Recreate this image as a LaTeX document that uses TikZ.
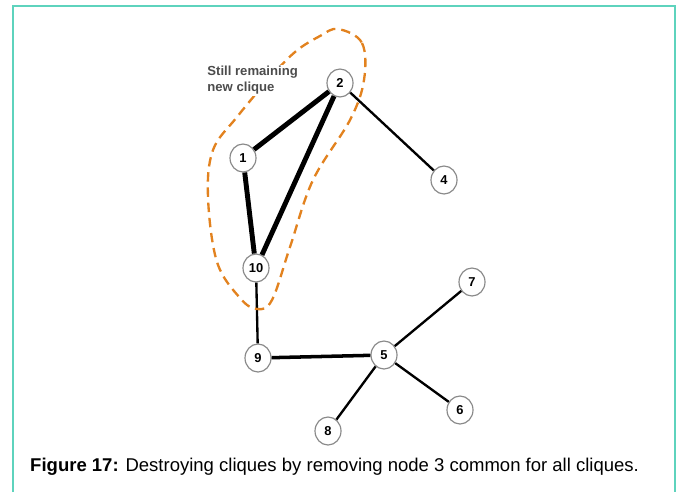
\documentclass[tikz,border=0pt]{standalone}
\usepackage{fontspec}
\setmainfont{Liberation Sans}
\usetikzlibrary{shapes.geometric}
\definecolor{framecol}{HTML}{5ED3BD}
\definecolor{lassocol}{HTML}{E2821F}
\definecolor{ringcol}{HTML}{8A8A8A}

\begin{document}
\begin{tikzpicture}[x=0.03cm, y=-0.03cm,
  vertex/.style={ellipse, draw=ringcol, fill=white, line width=1pt, inner sep=0pt,
    minimum width=0.78cm, minimum height=0.84cm, font=\fontsize{11}{12}\selectfont\bfseries},
  link/.style={line width=2pt},
  heavy/.style={line width=4.2pt}]
\useasboundingbox (0,0) rectangle (680,492);

% frame, open at the bottom
\draw[framecol, line width=1.6pt] (13,492) -- (13,6) -- (675,6) -- (675,492);

% vertices
\node[vertex] (n2) at (340, 83) {2};
\node[vertex] (n1) at (243,158) {1};
\node[vertex] (n4) at (444,180) {4};
\node[vertex] (n10) at (256,268) {10};
\node[vertex] (n9) at (258,358) {9};
\node[vertex] (n5) at (384,355) {5};
\node[vertex] (n7) at (472,282) {7};
\node[vertex] (n6) at (460,410) {6};
\node[vertex] (n8) at (328,431) {8};

% the clique 1-2-10
\draw[heavy] (n2) -- (n1);
\draw[heavy] (n2) -- (n10);
\draw[heavy] (n1) -- (n10);

% the other edges
\draw[link] (n2) -- (n4);
\draw[link] (n10) -- (n9);
\draw[line width=3pt] (n9) -- (n5);
\draw[link] (n5) -- (n7);
\draw[link] (n5) -- (n6);
\draw[link] (n5) -- (n8);

% loop round the clique
\draw[lassocol, line width=2pt, dash pattern=on 8pt off 5pt]
  plot[smooth cycle, tension=0.6] coordinates {(338,29) (362,43) (364,80) (350,120)
    (313,180) (290,247) (272,300) (257,309) (240,298) (217,262) (208,197)
    (213,150) (237,117) (268,80) (295,52) (320,36)};

\node[align=left, text=black!70, fill=white, font=\fontsize{11.2}{13.5}\selectfont\bfseries,
  anchor=north west, inner sep=1pt] (tag) at (206,65) {Still remaining\\new clique};

\node[anchor=west, inner sep=0pt, font=\fontsize{15.8}{18}\selectfont] (caption) at (30,467)
  {\textbf{Figure 17:} Destroying cliques by removing node 3 common for all cliques.};
\end{tikzpicture}
\end{document}
